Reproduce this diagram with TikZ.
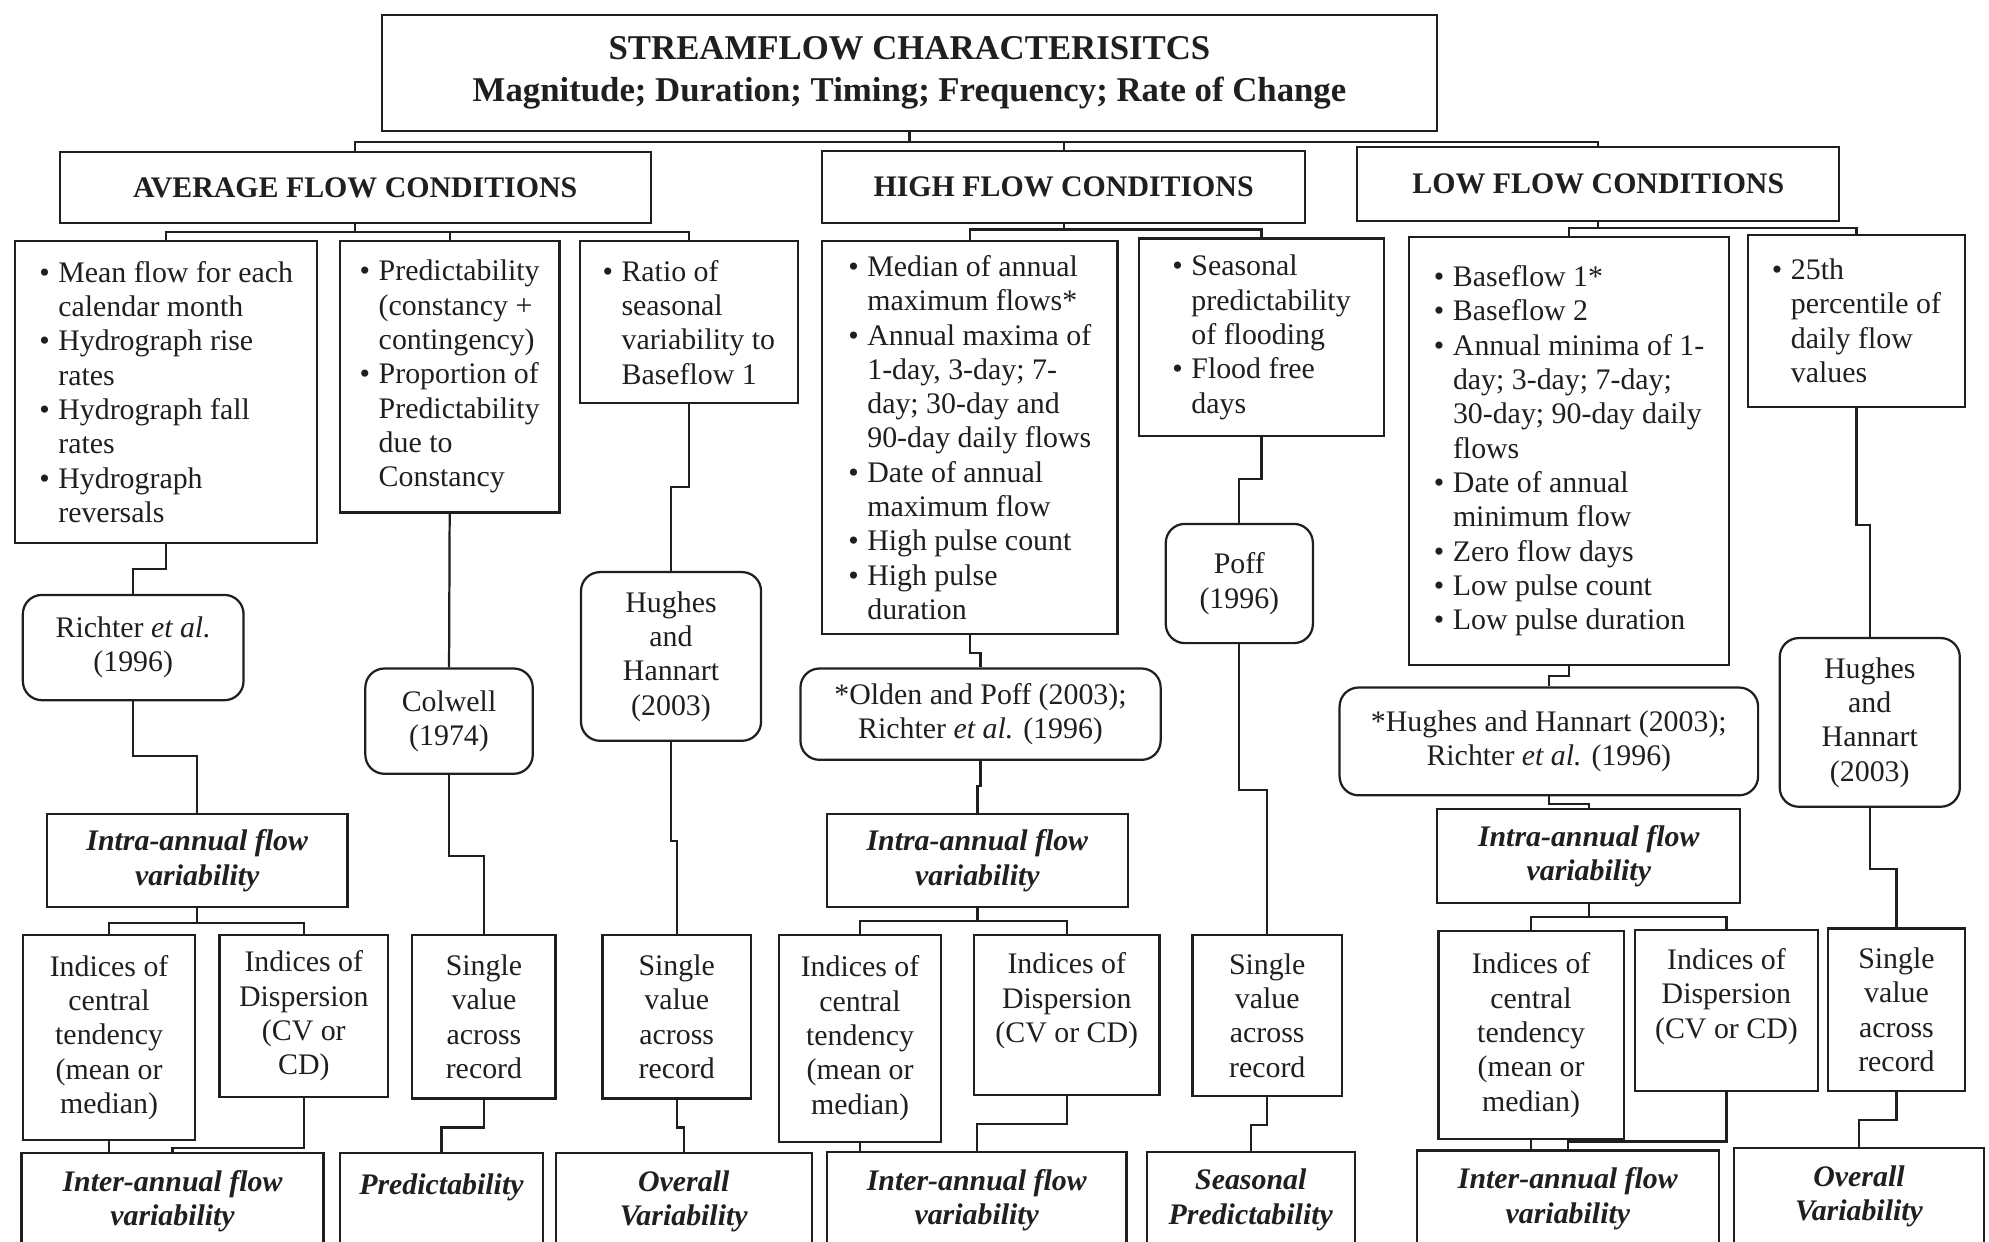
\documentclass[tikz,border=0pt]{standalone}
\usepackage{fontspec}
\setmainfont{Liberation Serif}

\definecolor{ink}{gray}{0.12}
\newcommand{\bul}{\makebox[0.3cm][l]{\textbullet}}
\newcommand{\ind}{\hspace*{0.3cm}}
\tikzset{
    box/.style={draw=ink, line width=1pt, inner sep=2pt, text=ink,
        font=\fontsize{13.4}{15.4}\selectfont},
    head/.style={box, align=center, font=\fontsize{13.4}{15.4}\selectfont\bfseries},
    items/.style={box, align=left},
    plain/.style={box, align=center},
    ref/.style={plain, rounded corners=0.3cm},
    result/.style={plain, font=\fontsize{13.4}{15.4}\selectfont\bfseries\itshape},
    link/.style={draw=ink, line width=1pt},
}

\begin{document}
\begin{tikzpicture}[x=0.02cm, y=-0.02cm]
    \clip (0,0) rectangle (1568,979);
    \fill[white] (0,0) rectangle (1568,979);

    % top level
    \node[head, minimum width=16.64cm, minimum height=1.82cm,
        font=\fontsize{15.6}{18.7}\selectfont\bfseries] (title) at (717,57.5)
        {STREAMFLOW CHARACTERISITCS\\Magnitude; Duration; Timing; Frequency; Rate of Change};
    \node[head, minimum width=9.32cm, minimum height=1.12cm] (avgflow) at (280,148) {AVERAGE FLOW CONDITIONS};
    \node[head, minimum width=7.62cm, minimum height=1.14cm] (highflow) at (838.5,147.5) {HIGH FLOW CONDITIONS};
    \node[head, minimum width=7.60cm, minimum height=1.16cm] (lowflow) at (1260,145) {LOW FLOW CONDITIONS};

    % indices
    \node[items, minimum width=4.76cm, minimum height=4.76cm] (avgmean) at (131,309)
        {\bul Mean flow for each\\ \ind calendar month\\ \bul Hydrograph rise\\ \ind rates\\
         \bul Hydrograph fall\\ \ind rates\\ \bul Hydrograph\\ \ind reversals};
    \node[items, minimum width=3.46cm, minimum height=4.28cm] (avgpred) at (354.5,297)
        {\bul Predictability\\ \ind (constancy +\\ \ind contingency)\\ \bul Proportion of\\
         \ind Predictability\\ \ind due to\\ \ind Constancy};
    \node[items, minimum width=3.44cm, minimum height=2.56cm] (avgratio) at (543,254)
        {\bul Ratio of\\ \ind seasonal\\ \ind variability to\\ \ind Baseflow 1};
    \node[items, minimum width=4.66cm, minimum height=6.20cm] (highmax) at (764.5,345)
        {\bul Median of annual\\ \ind maximum flows*\\ \bul Annual maxima of\\ \ind 1-day, 3-day; 7-\\
         \ind day; 30-day and\\ \ind 90-day daily flows\\ \bul Date of annual\\ \ind maximum flow\\
         \bul High pulse count\\ \bul High pulse\\ \ind duration};
    \node[items, minimum width=3.86cm, minimum height=3.12cm] (highseas) at (994.5,266)
        {\bul Seasonal\\ \ind predictability\\ \ind of flooding\\ \bul Flood free\\ \ind days};
    \node[items, minimum width=5.04cm, minimum height=6.74cm] (lowbase) at (1237,355.5)
        {\bul Baseflow 1*\\ \bul Baseflow 2\\ \bul Annual minima of 1-\\ \ind day; 3-day; 7-day;\\
         \ind 30-day; 90-day daily\\ \ind flows\\ \bul Date of annual\\ \ind minimum flow\\
         \bul Zero flow days\\ \bul Low pulse count\\ \bul Low pulse duration};
    \node[items, minimum width=3.42cm, minimum height=2.72cm] (lowperc) at (1463.5,253)
        {\bul 25th\\ \ind percentile of\\ \ind daily flow\\ \ind values};

    % sources
    \node[ref, minimum width=3.48cm, minimum height=1.66cm] (richter) at (105,510.5) {Richter \textit{et al.}\\(1996)};
    \node[ref, minimum width=2.64cm, minimum height=1.66cm] (colwell) at (354,568.5) {Colwell\\(1974)};
    \node[ref, minimum width=2.84cm, minimum height=2.66cm] (hughesA) at (529,517.5) {Hughes\\and\\Hannart\\(2003)};
    \node[ref, minimum width=5.68cm, minimum height=1.44cm] (olden) at (773,563)
        {*Olden and Poff (2003);\\Richter \textit{et al.} (1996)};
    \node[ref, minimum width=2.32cm, minimum height=1.88cm] (poff) at (977,460) {Poff\\(1996)};
    \node[ref, minimum width=6.60cm, minimum height=1.70cm] (hughesRich) at (1221,584.5)
        {*Hughes and Hannart (2003);\\Richter \textit{et al.} (1996)};
    \node[ref, minimum width=2.84cm, minimum height=2.66cm] (hughesB) at (1474,569.5) {Hughes\\and\\Hannart\\(2003)};

    % intra-annual
    \node[result, minimum width=4.74cm, minimum height=1.46cm] (avgintra) at (155.5,678.5) {Intra-annual flow\\variability};
    \node[result, minimum width=4.74cm, minimum height=1.46cm] (highintra) at (770.5,678.5) {Intra-annual flow\\variability};
    \node[result, minimum width=4.78cm, minimum height=1.48cm] (lowintra) at (1252.5,675) {Intra-annual flow\\variability};

    % statistics
    \node[plain, minimum width=2.72cm, minimum height=3.24cm] (avgcent) at (86,818)
        {Indices of\\central\\tendency\\(mean or\\median)};
    \node[plain, minimum width=2.66cm, minimum height=2.56cm] (avgdisp) at (239.5,801)
        {Indices of\\Dispersion\\(CV or\\CD)};
    \node[plain, minimum width=2.26cm, minimum height=2.58cm] (avgsingA) at (381.5,801.5) {Single\\value\\across\\record};
    \node[plain, minimum width=2.34cm, minimum height=2.58cm] (avgsingB) at (533.5,801.5) {Single\\value\\across\\record};
    \node[plain, minimum width=2.56cm, minimum height=3.26cm] (highcent) at (678,818.5)
        {Indices of\\central\\tendency\\(mean or\\median)};
    \node[plain, minimum width=2.92cm, minimum height=2.52cm] (highdisp) at (841,800)
        {Indices of\\Dispersion\\(CV or CD)\\ \mbox{}};
    \node[plain, minimum width=2.36cm, minimum height=2.54cm] (highsing) at (999,800.5) {Single\\value\\across\\record};
    \node[plain, minimum width=2.92cm, minimum height=3.28cm] (lowcent) at (1207,816)
        {Indices of\\central\\tendency\\(mean or\\median)};
    \node[plain, minimum width=2.88cm, minimum height=2.54cm] (lowdisp) at (1361,796.5)
        {Indices of\\Dispersion\\(CV or CD)\\ \mbox{}};
    \node[plain, minimum width=2.16cm, minimum height=2.56cm] (lowsing) at (1495,796) {Single\\value\\across\\record};

    % outcomes
    \node[result, minimum width=4.76cm, minimum height=1.52cm] (avginter) at (136,947) {Inter-annual flow\\variability};
    \node[result, minimum width=3.20cm, minimum height=1.52cm] (avgpredict) at (348,947) {Predictability\\ \mbox{}};
    \node[result, minimum width=4.04cm, minimum height=1.52cm] (avgover) at (539,947) {Overall\\Variability};
    \node[result, minimum width=4.72cm, minimum height=1.52cm] (highinter) at (770,946) {Inter-annual flow\\variability};
    \node[result, minimum width=3.28cm, minimum height=1.52cm] (highpredict) at (986,946) {Seasonal\\Predictability};
    \node[result, minimum width=4.76cm, minimum height=1.52cm] (lowinter) at (1236,945) {Inter-annual flow\\variability};
    \node[result, minimum width=3.94cm, minimum height=1.52cm] (lowover) at (1465.5,943) {Overall\\Variability};

    % connectors
    \foreach \n in {avgflow, highflow, lowflow}
        \draw[link] (title.south) -- ++(0,8) -| (\n.north);
    \foreach \n in {avgmean, avgpred, avgratio}
        \draw[link] (avgflow.south) -- ++(0,6) -| (\n.north);
    \foreach \n in {highmax, highseas}
        \draw[link] (highflow.south) -- ++(0,4) -| (\n.north);
    \foreach \n in {lowbase, lowperc}
        \draw[link] (lowflow.south) -- ++(0,5) -| (\n.north);

    \draw[link] (avgmean.south) -- ++(0,20) -| (richter.north);
    \draw[link] (avgpred.south) -- (colwell.north);
    \draw[link] (avgratio.south) -- ++(0,65) -| (hughesA.north);
    \draw[link] (highmax.south) -- ++(0,14) -| (olden.north);
    \draw[link] (highseas.south) -- ++(0,33) -| (poff.north);
    \draw[link] (lowbase.south) -- ++(0,8) -| (hughesRich.north);
    \draw[link] (lowperc.south) -- ++(0,92) -| (hughesB.north);

    \draw[link] (richter.south) -- ++(0,43) -| (avgintra.north);
    \draw[link] (olden.south) -- ++(0,20) -| (highintra.north);
    \draw[link] (hughesRich.south) -- ++(0,6) -| (lowintra.north);
    \draw[link] (colwell.south) -- ++(0,64) -| (avgsingA.north);
    \draw[link] (hughesA.south) -- ++(0,78) -| (avgsingB.north);
    \draw[link] (poff.south) -- ++(0,115) -| (highsing.north);
    \draw[link] (hughesB.south) -- ++(0,48) -| (lowsing.north);

    \foreach \n in {avgcent, avgdisp}
        \draw[link] (avgintra.south) -- ++(0,12) -| (\n.north);
    \foreach \n in {highcent, highdisp}
        \draw[link] (highintra.south) -- ++(0,10) -| (\n.north);
    \foreach \n in {lowcent, lowdisp}
        \draw[link] (lowintra.south) -- ++(0,10) -| (\n.north);

    \draw[link] (avgcent.south) -- (avgcent.south |- avginter.north);
    \draw[link] (avgdisp.south) -- ++(0,39) -| (avginter.north);
    \draw[link] (avgsingA.south) -- ++(0,22) -| (avgpredict.north);
    \draw[link] (avgsingB.south) -- ++(0,22) -| (avgover.north);
    \draw[link] (highcent.south) -- (highcent.south |- highinter.north);
    \draw[link] (highdisp.south) -- ++(0,22) -| (highinter.north);
    \draw[link] (highsing.south) -- ++(0,22) -| (highpredict.north);
    \draw[link] (lowcent.south) -- (lowcent.south |- lowinter.north);
    \draw[link] (lowdisp.south) -- ++(0,39) -| (lowinter.north);
    \draw[link] (lowsing.south) -- ++(0,22) -| (lowover.north);
\end{tikzpicture}
\end{document}
